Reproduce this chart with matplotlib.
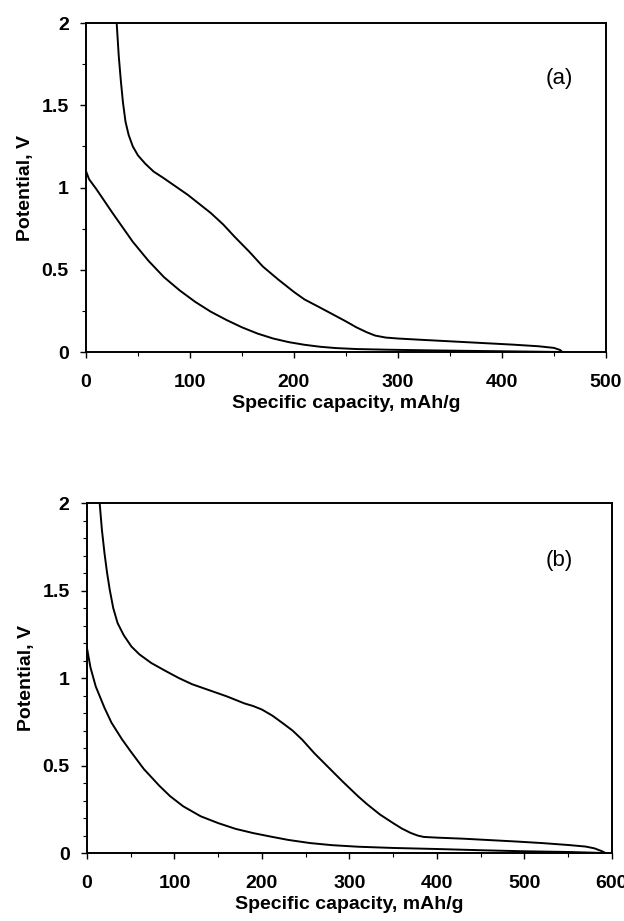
import matplotlib
matplotlib.use("Agg")
import matplotlib.pyplot as plt
from matplotlib.ticker import MultipleLocator

# Panel (a): discharge (lower) and charge (upper) curves
a_dis_x = [0, 3, 10, 25, 45, 60, 75, 90, 105, 120, 135, 150, 165, 180, 195, 210,
           225, 240, 260, 290, 330, 380, 420, 458]
a_dis_y = [1.10, 1.05, 0.99, 0.85, 0.67, 0.555, 0.455, 0.375, 0.305, 0.245, 0.195,
           0.15, 0.112, 0.082, 0.06, 0.044, 0.032, 0.024, 0.018, 0.014, 0.01, 0.006,
           0.003, 0.0]
a_chg_x = [458, 456, 450, 435, 410, 380, 350, 320, 300, 288, 278, 270, 260, 250, 237,
           223, 210, 200, 185, 170, 157, 143, 132, 120, 108, 98, 90, 82, 74, 65, 57,
           50, 45, 41, 38, 35.5, 33.5, 31.5, 29.5]
a_chg_y = [0.0, 0.012, 0.025, 0.035, 0.045, 0.055, 0.065, 0.075, 0.082, 0.088, 0.10,
           0.12, 0.15, 0.186, 0.23, 0.277, 0.32, 0.365, 0.44, 0.52, 0.61, 0.70, 0.775,
           0.845, 0.905, 0.955, 0.99, 1.025, 1.06, 1.097, 1.145, 1.195, 1.25, 1.32,
           1.40, 1.52, 1.65, 1.80, 2.0]

# Panel (b)
b_dis_x = [0, 4, 10, 20, 28, 40, 50.8, 65, 82.6, 95, 110, 130, 150, 170, 190, 210,
           230, 255, 280, 310, 350, 400, 450, 500, 550, 593]
b_dis_y = [1.171, 1.06, 0.952, 0.83, 0.745, 0.65, 0.575, 0.48, 0.385, 0.325, 0.267,
           0.21, 0.171, 0.138, 0.114, 0.094, 0.075, 0.057, 0.045, 0.036, 0.029, 0.023,
           0.016, 0.01, 0.006, 0.0]
b_chg_x = [593, 588, 580, 570, 550, 520, 490, 460, 430, 400, 385, 378, 370, 360, 350,
           335, 320, 310, 292, 273, 260, 246, 235, 223, 212, 200, 190, 180, 160, 140,
           120, 105, 90, 73.5, 60, 50.8, 42, 35, 30, 26, 23, 20, 17, 14.5]
b_chg_y = [0.0, 0.012, 0.027, 0.037, 0.046, 0.057, 0.066, 0.074, 0.082, 0.088, 0.092,
           0.10, 0.115, 0.14, 0.171, 0.22, 0.28, 0.324, 0.41, 0.505, 0.57, 0.648, 0.70,
           0.745, 0.785, 0.82, 0.84, 0.855, 0.895, 0.93, 0.965, 1.0, 1.04, 1.086, 1.135,
           1.18, 1.245, 1.314, 1.40, 1.505, 1.60, 1.714, 1.85, 2.0]

y_ticks = [0, 0.5, 1, 1.5, 2]
y_tick_labels = ["0", "0.5", "1", "1.5", "2"]
xlabel = "Specific capacity, mAh/g"
ylabel = "Potential, V"

plt.rcParams['font.family'] = ['Liberation Sans', 'DejaVu Sans']

fig = plt.figure(figsize=(6.24, 9.21), dpi=100)


def style(ax, xmax, y_minor, panel_label, lx, ly):
    ax.set_xlim(0, xmax)
    ax.set_ylim(0, 2)
    ax.set_yticks(y_ticks)
    ax.set_yticklabels(y_tick_labels)
    ax.xaxis.set_major_locator(MultipleLocator(100))
    ax.xaxis.set_minor_locator(MultipleLocator(50))
    ax.yaxis.set_minor_locator(MultipleLocator(y_minor))
    ax.tick_params(axis='both', which='major', direction='out', length=4, width=1,
                   labelsize=14)
    ax.tick_params(axis='x', which='major', pad=12)
    ax.tick_params(axis='y', which='major', pad=8.5)
    ax.tick_params(axis='both', which='minor', direction='out', length=3, width=0.8)
    for lab in ax.get_xticklabels() + ax.get_yticklabels():
        lab.set_fontweight('bold')
    for s in ax.spines.values():
        s.set_linewidth(1.4)
    ax.set_xlabel(xlabel, fontsize=14, fontweight='bold', labelpad=3)
    ax.set_ylabel(ylabel, fontsize=14, fontweight='bold')
    ax.yaxis.set_label_coords(-0.10, 0.5)
    ax.text(lx, ly, panel_label, transform=ax.transAxes, fontsize=16,
            ha='center', va='center')


ax1 = fig.add_axes([0.1378, 0.6178, 0.8333, 0.3572])
ax1.plot(a_dis_x, a_dis_y, color='black', lw=1.4)
ax1.plot(a_chg_x, a_chg_y, color='black', lw=1.4)
style(ax1, 500, 0.25, "(a)", 0.91, 0.83)

ax2 = fig.add_axes([0.1394, 0.0738, 0.841, 0.380])
ax2.plot(b_dis_x, b_dis_y, color='black', lw=1.4)
ax2.plot(b_chg_x, b_chg_y, color='black', lw=1.4)
style(ax2, 600, 0.1, "(b)", 0.90, 0.837)

fig.savefig("out.png", dpi=100)
